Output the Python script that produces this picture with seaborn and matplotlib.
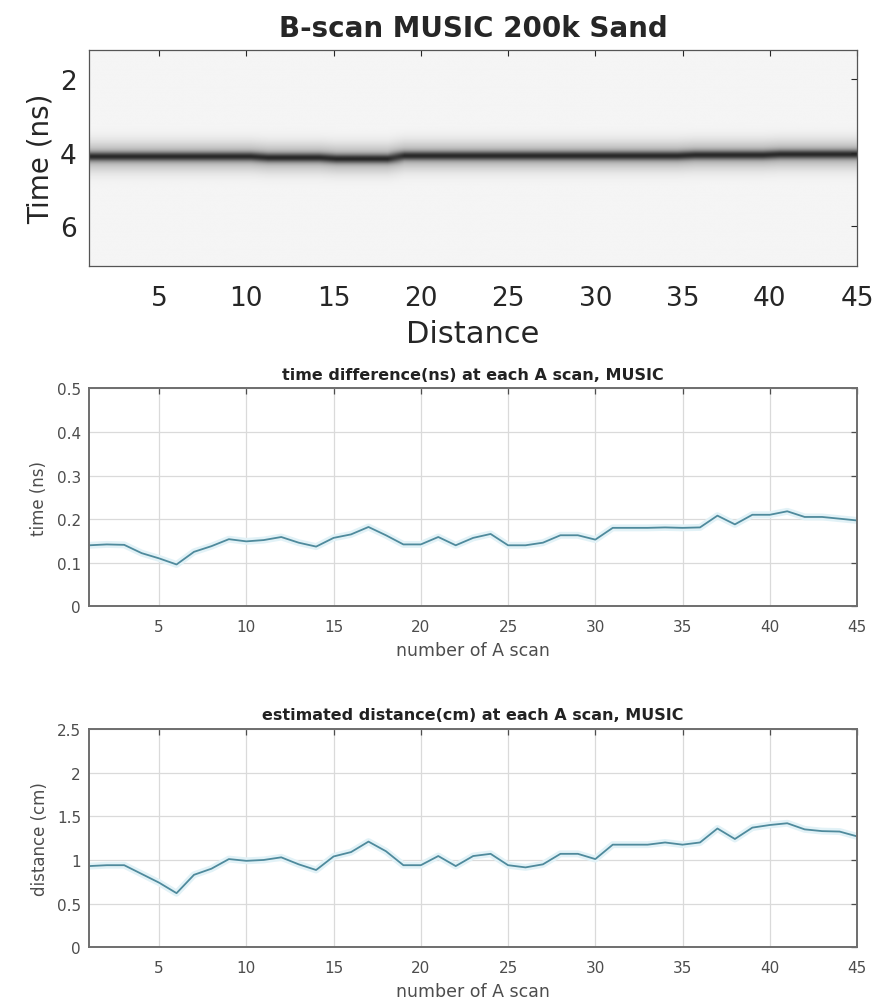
import numpy as np
import pandas as pd
import matplotlib
matplotlib.use("Agg")
import matplotlib.pyplot as plt
import seaborn as sns

# A-scan index
scan = list(range(1, 46))

# time difference (ns)
time_diff = [0.140, 0.142, 0.141, 0.122, 0.110, 0.096, 0.125, 0.138, 0.154, 0.149,
             0.152, 0.159, 0.146, 0.137, 0.157, 0.165, 0.182, 0.163, 0.142, 0.142,
             0.159, 0.140, 0.157, 0.166, 0.140, 0.140, 0.146, 0.163, 0.163, 0.153,
             0.180, 0.180, 0.180, 0.181, 0.180, 0.181, 0.208, 0.188, 0.210, 0.210,
             0.218, 0.205, 0.205, 0.201, 0.197]

# estimated distance (cm)
est_dist = [0.93, 0.94, 0.94, 0.84, 0.74, 0.62, 0.83, 0.90, 1.01, 0.99,
            1.00, 1.03, 0.95, 0.885, 1.04, 1.09, 1.21, 1.10, 0.94, 0.94,
            1.045, 0.93, 1.045, 1.07, 0.94, 0.915, 0.95, 1.07, 1.07, 1.01,
            1.175, 1.175, 1.175, 1.20, 1.175, 1.20, 1.36, 1.24, 1.37, 1.40,
            1.42, 1.35, 1.33, 1.325, 1.27]

# reflection band centre (ns) in the B-scan, per A-scan
band_center = [4.10] * 10 + [4.13] * 4 + [4.16] * 4 + [4.08] * 17 + [4.06] * 5 + [4.04] * 5

t_min, t_max = 1.2, 7.08
t = np.linspace(t_min, t_max, 300)

# B-scan intensity image built from the band centres
bscan = np.zeros((len(t), len(scan)))
for j, c in enumerate(band_center):
    core = np.exp(-((t - c) ** 2) / (2 * 0.085 ** 2))
    halo = np.exp(-((t - c) ** 2) / (2 * 0.27 ** 2))
    bscan[:, j] = 0.04 + 0.52 * core + 0.28 * halo

sns.set_style("white")
plt.rcParams["font.family"] = ["DejaVu Sans"]

fig = plt.figure(figsize=(8.79, 10.03), dpi=100)

# ---- top: B-scan image
ax0 = fig.add_axes([0.1016, 0.7341, 0.8734, 0.2153])
ax0.imshow(bscan, cmap="gray_r", vmin=0, vmax=1, aspect="auto",
           extent=[1, 45, t_max, t_min], interpolation="bilinear")
ax0.set_xlim(1, 45)
ax0.set_ylim(t_max, t_min)
ax0.set_xticks(range(5, 46, 5))
ax0.set_yticks([2, 4, 6])
ax0.tick_params(direction="in", top=True, right=True, labelsize=19,
                colors="#262626", length=4, width=0.8)
ax0.tick_params(axis="x", pad=14)
ax0.tick_params(axis="y", pad=9)
ax0.set_xlabel("Distance", fontsize=22, color="#262626", labelpad=6)
ax0.set_ylabel("Time (ns)", fontsize=20, color="#262626", labelpad=4)
ax0.set_title("B-scan MUSIC 200k Sand", fontsize=20, fontweight="bold", pad=10)
for s in ax0.spines.values():
    s.set_color("#555555")
    s.set_linewidth(0.9)

line_color = "#4f8a9c"
text_gray = "#4d4d4d"


def line_panel(rect, y, ylim, yticks, ylabels, title, ylabel):
    ax = fig.add_axes(rect)
    df = pd.DataFrame({"scan": scan, "val": y})
    # soft halo under the trace, as in the scanned figure
    sns.lineplot(data=df, x="scan", y="val", ax=ax, color="#e2f2f7", linewidth=5)
    sns.lineplot(data=df, x="scan", y="val", ax=ax, color=line_color, linewidth=1.3)
    ax.set_xlim(1, 45)
    ax.set_ylim(*ylim)
    ax.set_xticks(range(5, 46, 5))
    ax.set_yticks(yticks)
    ax.set_yticklabels(ylabels)
    ax.grid(True, color="#dadada", linewidth=0.9)
    ax.tick_params(direction="in", top=True, right=True, labelsize=11,
                   colors=text_gray, length=4, width=0.9)
    ax.tick_params(axis="x", pad=9)
    ax.tick_params(axis="y", pad=6)
    ax.set_xlabel("number of A scan", fontsize=12.5, color=text_gray, labelpad=5)
    ax.set_ylabel(ylabel, fontsize=12, color=text_gray, labelpad=6)
    ax.set_title(title, fontsize=11.5, fontweight="bold", color="#222222", pad=7)
    for s in ax.spines.values():
        s.set_color("#6e6e6e")
        s.set_linewidth(1.4)
    return ax


line_panel([0.1016, 0.3945, 0.8734, 0.2173], time_diff, (0, 0.5),
           [0, 0.1, 0.2, 0.3, 0.4, 0.5], ["0", "0.1", "0.2", "0.3", "0.4", "0.5"],
           "time difference(ns) at each A scan, MUSIC", "time (ns)")
line_panel([0.1016, 0.0545, 0.8734, 0.2178], est_dist, (0, 2.5),
           [0, 0.5, 1, 1.5, 2, 2.5], ["0", "0.5", "1", "1.5", "2", "2.5"],
           "estimated distance(cm) at each A scan, MUSIC", "distance (cm)")

fig.savefig("out.png", dpi=100)
